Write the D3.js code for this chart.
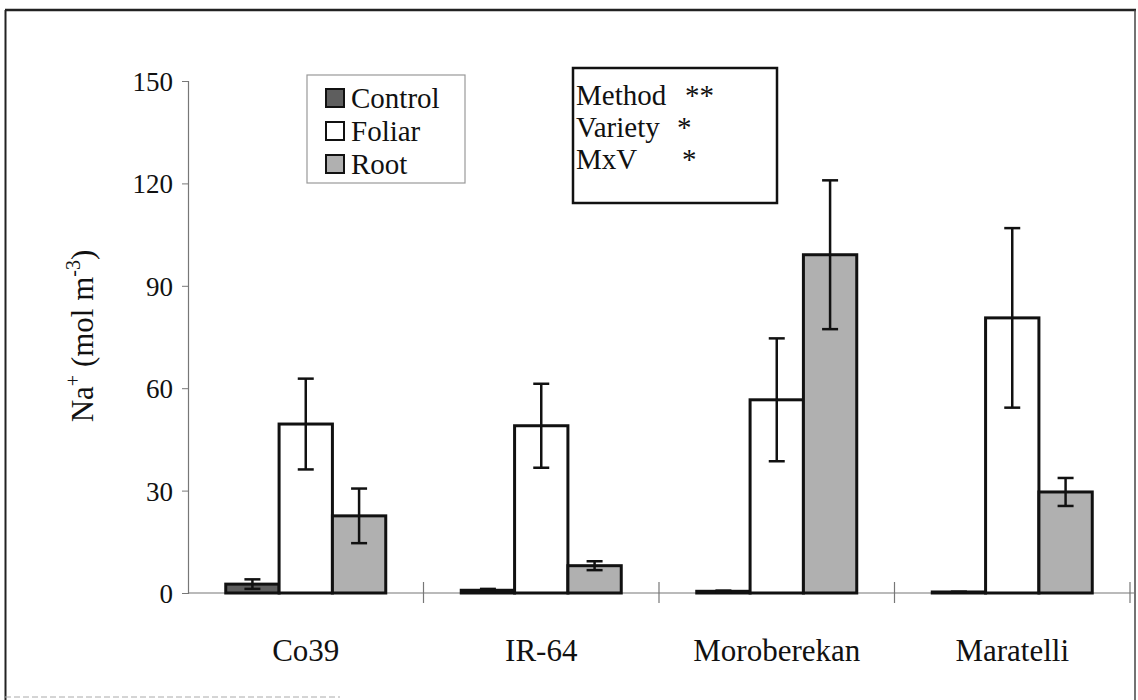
<!DOCTYPE html>
<html><head><meta charset="utf-8">
<script src="https://cdn.jsdelivr.net/npm/d3@7"></script>
<style>body{margin:0;background:#fff}svg{display:block}text,tspan{font-family:"Liberation Serif","Times New Roman",serif;fill:#111}</style>
</head><body><div id="chart"></div>
<script>
const categories = ["Co39", "IR-64", "Moroberekan", "Maratelli"];
const series = ["Control", "Foliar", "Root"];
const controlMean = [2.6, 0.8, 0.5, 0.3];
const controlErr  = [1.4, 0.4, 0.2, 0.1];
const foliarMean  = [49.5, 49, 56.6, 80.6];
const foliarErr   = [13.3, 12.3, 18, 26.3];
const rootMean    = [22.6, 8, 99.1, 29.6];
const rootErr     = [8, 1.3, 21.8, 4.1];
const yTicks = [0, 30, 60, 90, 120, 150];
const statsLabels = ["Method", "Variety", "MxV"];
const statsStars = ["**", "*", "*"];

const SERIF = "'Liberation Serif', 'Times New Roman', serif";
const W = 1138, H = 700;
const svg = d3.select("#chart").append("svg").attr("width", W).attr("height", H)
  .attr("font-family", SERIF);

// outer frame
svg.append("line").attr("x1",5).attr("x2",1136).attr("y1",10).attr("y2",10).attr("stroke","#222").attr("stroke-width",2.5);
svg.append("line").attr("x1",5.5).attr("x2",5.5).attr("y1",10).attr("y2",700).attr("stroke","#222").attr("stroke-width",2);
svg.append("line").attr("x1",1135).attr("x2",1135).attr("y1",10).attr("y2",700).attr("stroke","#444").attr("stroke-width",1.5);
svg.append("line").attr("x1",5).attr("x2",340).attr("y1",697).attr("y2",697).attr("stroke","#aaa").attr("stroke-width",1).attr("stroke-dasharray","6,3");

const x0 = d3.scaleBand().domain(categories).range([188, 1130]).padding(0);
const groupW = 160;
const x1 = d3.scaleBand().domain(series).range([0, groupW]).padding(0);
const y = d3.scaleLinear().domain([0, 150]).range([593, 81]);

const fills = {Control: "#5e5e5e", Foliar: "#ffffff", Root: "#b0b0b0"};
const data = [];
categories.forEach((c, i) => {
  data.push({cat: c, s: "Control", v: controlMean[i], e: controlErr[i]});
  data.push({cat: c, s: "Foliar", v: foliarMean[i], e: foliarErr[i]});
  data.push({cat: c, s: "Root", v: rootMean[i], e: rootErr[i]});
});
const bx = d => x0(d.cat) + (x0.bandwidth() - groupW) / 2 + x1(d.s);

// y axis
const yAxis = d3.axisLeft(y).tickValues(yTicks).tickSize(6).tickFormat(d3.format("d"));
const gy = svg.append("g").attr("transform", "translate(188,0)").call(yAxis)
  .attr("font-family", SERIF);
gy.select(".domain").attr("stroke", "#777").attr("stroke-width", 1.2);
gy.selectAll(".tick line").attr("stroke", "#777");
gy.selectAll(".tick text").attr("font-size", 27).attr("x", -15).attr("dy", "0.35em")
  .style("font-family", SERIF).attr("fill", "#111");

// x axis
const xTickPos = categories.map(c => x0(c)).concat([x0.range()[1]]);
svg.append("line").attr("x1", 188).attr("x2", 1136).attr("y1", y(0)).attr("y2", y(0)).attr("stroke", "#777").attr("stroke-width", 1.2);
svg.selectAll(".xt").data(xTickPos.slice(1)).enter().append("line")
  .attr("x1", d => d).attr("x2", d => d).attr("y1", y(0) - 11).attr("y2", y(0) + 10)
  .attr("stroke", "#777").attr("stroke-width", 1.2);
svg.selectAll(".xl").data(categories).enter().append("text")
  .attr("x", d => x0(d) + x0.bandwidth() / 2).attr("y", 661)
  .attr("text-anchor", "middle").attr("font-size", 31).style("font-family", SERIF).text(d => d);

// bars
svg.selectAll(".bar").data(data).enter().append("rect")
  .attr("x", bx).attr("width", x1.bandwidth())
  .attr("y", d => y(d.v)).attr("height", d => y(0) - y(d.v))
  .attr("fill", d => fills[d.s]).attr("stroke", "#111").attr("stroke-width", 3);

// error bars
const eg = svg.selectAll(".err").data(data).enter().append("g");
const cx = d => bx(d) + x1.bandwidth() / 2;
eg.append("line").attr("x1", cx).attr("x2", cx)
  .attr("y1", d => y(d.v + d.e)).attr("y2", d => y(Math.max(0, d.v - d.e)))
  .attr("stroke", "#111").attr("stroke-width", 2.5);
eg.append("line").attr("x1", d => cx(d) - 8).attr("x2", d => cx(d) + 8)
  .attr("y1", d => y(d.v + d.e)).attr("y2", d => y(d.v + d.e))
  .attr("stroke", "#111").attr("stroke-width", 2.5);
eg.append("line").attr("x1", d => cx(d) - 8).attr("x2", d => cx(d) + 8)
  .attr("y1", d => y(Math.max(0, d.v - d.e))).attr("y2", d => y(Math.max(0, d.v - d.e)))
  .attr("stroke", "#111").attr("stroke-width", 2.5);

// y label
const yl = svg.append("text").attr("transform", "translate(93,336) rotate(-90)")
  .attr("text-anchor", "middle").attr("font-size", 31).style("font-family", SERIF);
yl.append("tspan").text("Na");
yl.append("tspan").attr("dy", -13).attr("font-size", 20).text("+");
yl.append("tspan").attr("dy", 13).text(" (mol m");
yl.append("tspan").attr("dy", -13).attr("font-size", 20).text("-3");
yl.append("tspan").attr("dy", 13).text(")");

// legend
svg.append("rect").attr("x", 307).attr("y", 75).attr("width", 158).attr("height", 108)
  .attr("fill", "#fff").attr("stroke", "#999").attr("stroke-width", 1.2);
const lg = svg.selectAll(".lg").data(series).enter().append("g")
  .attr("transform", (d, i) => `translate(326,${98 + i * 33})`);
lg.append("rect").attr("x", 0).attr("y", -9).attr("width", 18).attr("height", 18)
  .attr("fill", d => fills[d]).attr("stroke", "#111").attr("stroke-width", 2);
lg.append("text").attr("x", 25).attr("y", 0).attr("dy", "0.33em").attr("font-size", 29)
  .style("font-family", SERIF).text(d => d);

// stats box
svg.append("rect").attr("x", 573).attr("y", 68).attr("width", 204).attr("height", 135)
  .attr("fill", "#fff").attr("stroke", "#111").attr("stroke-width", 2.5);
const sg = svg.selectAll(".st").data(statsLabels).enter().append("text")
  .attr("y", (d, i) => 95 + i * 32).attr("dy", "0.33em").attr("font-size", 29)
  .style("font-family", SERIF);
sg.append("tspan").attr("x", 576).text(d => d);
sg.append("tspan").attr("x", (d, i) => i === 0 ? 685 : (i === 1 ? 677 : 682)).text((d, i) => statsStars[i]);
</script></body></html>
